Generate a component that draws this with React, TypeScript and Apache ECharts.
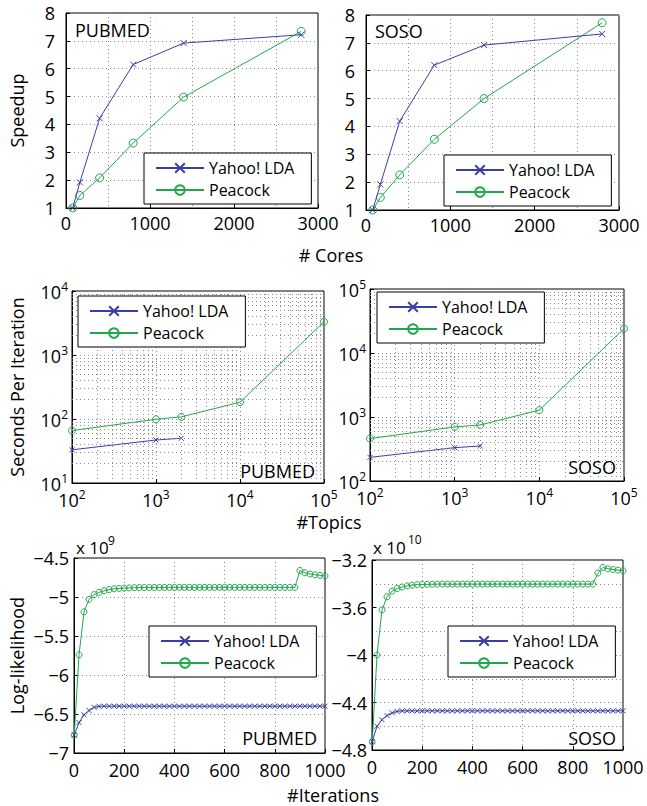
import React, { useEffect, useRef } from 'react';
import * as echarts from 'echarts';

const FONT = '"Open Sans", "DejaVu Sans", sans-serif';
const BLUE = '#3b3ea8';
const GREEN = '#20a84c';
const GRIDC = '#8c8c8c';

// ---- Speedup vs cores ----
const coresPubmed = [80, 165, 400, 800, 1400, 2800];
const coresSoso = [80, 170, 400, 810, 1400, 2800];
const speedupPubmedYahoo = [1, 1.92, 4.22, 6.15, 6.92, 7.22];
const speedupPubmedPeacock = [1, 1.45, 2.08, 3.33, 4.98, 7.34];
const speedupSosoYahoo = [1, 1.92, 4.19, 6.2, 6.92, 7.32];
const speedupSosoPeacock = [1, 1.45, 2.26, 3.54, 5.0, 7.72];

// ---- Seconds per iteration vs topics ----
const topicsYahoo = [100, 1000, 2000];
const topicsPeacock = [100, 1000, 2000, 10000, 100000];
const secPubmedYahoo = [33, 47, 50];
const secPubmedPeacock = [66, 99, 108, 183, 3300];
const secSosoYahoo = [234, 332, 352];
const secSosoPeacock = [460, 700, 750, 1280, 24000];

// ---- Log-likelihood vs iterations ----
const iterations = [
  1, 20, 40, 60, 80, 100, 120, 140, 160, 180, 200, 220, 240, 260, 280, 300, 320, 340, 360, 380,
  400, 420, 440, 460, 480, 500, 520, 540, 560, 580, 600, 620, 640, 660, 680, 700, 720, 740, 760,
  780, 800, 820, 840, 860, 880, 900, 920, 940, 960, 980, 1000,
];
const llPubmedPeacock = [
  -6.77, -5.74, -5.19, -5.03, -4.97, -4.94, -4.92, -4.905, -4.895, -4.89, -4.886, -4.883, -4.881,
  -4.879, -4.879, -4.878, -4.878, -4.878, -4.878, -4.877, -4.877, -4.877, -4.877,
  -4.877, -4.877, -4.877, -4.877, -4.877, -4.877, -4.877, -4.877, -4.877, -4.877,
  -4.877, -4.877, -4.877, -4.877, -4.877, -4.877, -4.877, -4.877, -4.877, -4.877,
  -4.877, -4.877,
  -4.66, -4.69, -4.705, -4.715, -4.722, -4.73,
];
const llPubmedYahoo = [
  -6.77, -6.61, -6.51, -6.455, -6.415, -6.402,
  -6.4, -6.4, -6.4, -6.4, -6.4, -6.4, -6.4, -6.4, -6.4, -6.4,
  -6.4, -6.4, -6.4, -6.4, -6.4, -6.4, -6.4, -6.4, -6.4, -6.4,
  -6.4, -6.4, -6.4, -6.4, -6.4, -6.4, -6.4, -6.4, -6.4, -6.4,
  -6.4, -6.4, -6.4, -6.4, -6.4, -6.4, -6.4, -6.4, -6.4, -6.4,
  -6.4, -6.4, -6.4, -6.4, -6.4,
];
const llSosoPeacock = [
  -4.73, -4.0, -3.62, -3.51, -3.462, -3.44, -3.427, -3.418, -3.412, -3.408, -3.406, -3.405, -3.404,
  -3.403, -3.403, -3.403, -3.403, -3.403, -3.403, -3.403, -3.403, -3.403, -3.403,
  -3.403, -3.403, -3.403, -3.403, -3.403, -3.403, -3.403, -3.403, -3.403, -3.403,
  -3.403, -3.403, -3.403, -3.403, -3.403, -3.403, -3.403, -3.403, -3.403, -3.403,
  -3.403, -3.403,
  -3.31, -3.263, -3.274, -3.28, -3.285, -3.29,
];
const llSosoYahoo = [
  -4.73, -4.6, -4.545, -4.51, -4.487, -4.475,
  -4.47, -4.47, -4.47, -4.47, -4.47, -4.47, -4.47, -4.47, -4.47, -4.47,
  -4.47, -4.47, -4.47, -4.47, -4.47, -4.47, -4.47, -4.47, -4.47, -4.47,
  -4.47, -4.47, -4.47, -4.47, -4.47, -4.47, -4.47, -4.47, -4.47, -4.47,
  -4.47, -4.47, -4.47, -4.47, -4.47, -4.47, -4.47, -4.47, -4.47, -4.47,
  -4.47, -4.47, -4.47, -4.47, -4.47,
];

const legendNames = ['Yahoo! LDA', 'Peacock'];
const minorMultipliers = [2, 3, 4, 5, 6, 7, 8, 9];
const decadesPubmedY = [10, 100, 1000];
const decadesSosoY = [100, 1000, 10000];
const decadesX = [100, 1000, 10000];

const CROSS = 'path://M0 0L10 10M10 0L0 10';

const pairs = (xs: number[], ys: number[]) => ys.map((y, i) => [xs[i], y]);
const minorOf = (decades: number[]) => {
  const out: number[] = [];
  decades.forEach((d) => minorMultipliers.forEach((m) => out.push(m * d)));
  return out;
};

const dotted = { color: GRIDC, type: [1, 3] as any, width: 1 };
const plainFmt = (v: number) => String(v);
const labelStyle = { fontSize: 18, fontFamily: FONT, color: '#000', formatter: plainFmt };
const negFmt = (v: number) => {
  const a = parseFloat(Math.abs(v).toFixed(2));
  return (v < 0 ? '\u2212' : '') + String(a);
};
const logFmt = (v: number) => `{b|10}{s|${Math.round(Math.log10(v))}}`;
const supRich = {
  b: { fontSize: 18, fontFamily: FONT, color: '#000', verticalAlign: 'bottom', lineHeight: 20 },
  s: { fontSize: 12, fontFamily: FONT, color: '#000', verticalAlign: 'bottom', lineHeight: 12, padding: [0, 0, 9, 0] },
};

const axisCommon = {
  axisLine: { show: true, onZero: false, lineStyle: { color: '#000', width: 1 } },
  axisTick: { show: true, inside: true, length: 4, lineStyle: { color: '#000' } },
  splitLine: { show: true, lineStyle: dotted },
};

export default function App() {
  const ref = useRef<HTMLDivElement>(null);
  useEffect(() => {
    document.body.style.margin = '0';
    if (!ref.current) return;
    const chart = echarts.init(ref.current, null, { renderer: 'svg' });

    const grids = [
      { left: 66, top: 13, width: 252, height: 195 },
      { left: 366, top: 15, width: 253, height: 195 },
      { left: 72, top: 291, width: 252, height: 192 },
      { left: 370, top: 289, width: 254, height: 192 },
      { left: 74, top: 558, width: 251, height: 195 },
      { left: 372, top: 560, width: 251, height: 190 },
    ].map((g) => ({ ...g, show: true, borderColor: '#000', borderWidth: 1, backgroundColor: '#fff' }));

    const coresX = (gi: number) => ({
      ...axisCommon, type: 'value', gridIndex: gi, min: 0, max: 3000, interval: 1000,
      minorTick: { show: false, splitNumber: 2 },
      minorSplitLine: { show: true, lineStyle: dotted },
      axisLabel: { ...labelStyle, margin: 6 },
    });
    const speedY = (gi: number) => ({
      ...axisCommon, type: 'value', gridIndex: gi, min: 1, max: 8, interval: 1,
      axisLabel: { ...labelStyle, margin: 11 },
      ...(gi === 0 ? {
        name: 'Speedup', nameLocation: 'middle', nameGap: 40,
        nameTextStyle: { fontSize: 18, fontFamily: FONT, color: '#000' },
      } : {}),
    });
    const logX = (gi: number) => ({
      ...axisCommon, type: 'log', logBase: 10, gridIndex: gi, min: 100, max: 100000,
      axisLabel: { formatter: logFmt, rich: supRich, margin: 6 },
    });
    const logY = (gi: number, min: number, max: number) => ({
      ...axisCommon, type: 'log', logBase: 10, gridIndex: gi, min, max,
      axisLabel: { formatter: logFmt, rich: supRich, margin: 4 },
      ...(gi === 2 ? {
        name: 'Seconds Per Iteration', nameLocation: 'middle', nameGap: 46,
        nameTextStyle: { fontSize: 18, fontFamily: FONT, color: '#000' },
      } : {}),
    });
    const iterX = (gi: number) => ({
      ...axisCommon, type: 'value', gridIndex: gi, min: 0, max: 1000, interval: 200,
      axisLabel: { ...labelStyle, margin: 8 },
    });

    const yahoo = (gi: number, data: number[][], size: number) => ({
      type: 'line', name: 'Yahoo! LDA', xAxisIndex: gi, yAxisIndex: gi, data,
      symbol: CROSS, symbolSize: size, color: BLUE,
      lineStyle: { color: BLUE, width: 1 },
      itemStyle: { color: 'rgba(0,0,0,0)', borderColor: BLUE, borderWidth: 1 },
      emphasis: { disabled: true }, z: 4,
    });
    const peacock = (gi: number, data: number[][], size: number, extra: any = {}) => ({
      type: 'line', name: 'Peacock', xAxisIndex: gi, yAxisIndex: gi, data,
      symbol: 'circle', symbolSize: size, color: GREEN,
      lineStyle: { color: GREEN, width: 1 },
      itemStyle: { color: 'rgba(0,0,0,0)', borderColor: GREEN, borderWidth: 1 },
      emphasis: { disabled: true }, z: 3,
      ...extra,
    });
    const minorGrid = (xs: number[], ys: number[]) => ({
      markLine: {
        silent: true, symbol: ['none', 'none'], label: { show: false },
        lineStyle: dotted, emphasis: { disabled: true },
        data: [...xs.map((v) => ({ xAxis: v })), ...ys.map((v) => ({ yAxis: v }))],
      },
    });

    const legend = (left: number, top: number) => ({
      left, top, orient: 'vertical', data: legendNames,
      backgroundColor: '#fff', borderColor: '#000', borderWidth: 1, borderRadius: 0,
      padding: [5, 17, 4, 11], itemGap: 2, itemWidth: 48, itemHeight: 12,
      selectedMode: false,
      textStyle: { fontSize: 16, fontFamily: FONT, color: '#000', lineHeight: 20 },
      z: 10,
    });

    const txt = (x: number, y: number, text: string, size: number, align = 'left', rot = 0) => ({
      type: 'text', x, y, rotation: rot, z: 20,
      style: {
        text, fontSize: size, fontFamily: FONT, fill: '#000',
        align, textAlign: align, verticalAlign: 'middle', textVerticalAlign: 'middle',
      },
    });

    const option: any = {
      animation: false,
      textStyle: { fontFamily: FONT },
      grid: grids,
      xAxis: [coresX(0), coresX(1), logX(2), logX(3), iterX(4), iterX(5)],
      yAxis: [
        speedY(0), speedY(1),
        logY(2, 10, 10000), logY(3, 100, 100000),
        {
          ...axisCommon, type: 'value', gridIndex: 4, min: -7, max: -4.5, interval: 0.5,
          axisLabel: { ...labelStyle, margin: 5, formatter: negFmt },
          name: 'Log-likelihood', nameLocation: 'middle', nameGap: 48,
          nameTextStyle: { fontSize: 18, fontFamily: FONT, color: '#000' },
        },
        {
          ...axisCommon, type: 'value', gridIndex: 5, min: -4.8, max: -3.2, interval: 0.4,
          minorTick: { show: false, splitNumber: 2 },
          minorSplitLine: { show: true, lineStyle: dotted },
          axisLabel: { ...labelStyle, margin: 5, formatter: negFmt },
        },
      ],
      legend: [legend(144, 153), legend(444, 155), legend(78, 296), legend(377, 292), legend(149, 626), legend(448, 626)],
      series: [
        yahoo(0, pairs(coresPubmed, speedupPubmedYahoo), 6),
        peacock(0, pairs(coresPubmed, speedupPubmedPeacock), 8),
        yahoo(1, pairs(coresSoso, speedupSosoYahoo), 6),
        peacock(1, pairs(coresSoso, speedupSosoPeacock), 8),
        yahoo(2, pairs(topicsYahoo, secPubmedYahoo), 5),
        peacock(2, pairs(topicsPeacock, secPubmedPeacock), 7, minorGrid(minorOf(decadesX), minorOf(decadesPubmedY))),
        yahoo(3, pairs(topicsYahoo, secSosoYahoo), 5),
        peacock(3, pairs(topicsPeacock, secSosoPeacock), 7, minorGrid(minorOf(decadesX), minorOf(decadesSosoY))),
        yahoo(4, pairs(iterations, llPubmedYahoo), 5),
        peacock(4, pairs(iterations, llPubmedPeacock), 6),
        yahoo(5, pairs(iterations, llSosoYahoo), 5),
        peacock(5, pairs(iterations, llSosoPeacock), 6),
      ],
      graphic: [
        txt(75, 30, 'PUBMED', 18),
        txt(375, 31, 'SOSO', 18),
        txt(315, 471, 'PUBMED', 18, 'right'),
        txt(616, 467, 'SOSO', 18, 'right'),
        txt(317, 738, 'PUBMED', 18, 'right'),
        txt(616, 738, 'SOSO', 18, 'right'),
        txt(331, 255, '# Cores', 18, 'center'),
        txt(329, 522, '#Topics', 18, 'center'),
        txt(333, 795, '#Iterations', 18, 'center'),
        txt(76, 547, 'x 10', 17),
        txt(108, 540, '9', 12),
        txt(373, 547, 'x 10', 17),
        txt(408, 539, '10', 12),
      ],
    };
    chart.setOption(option);
    return () => chart.dispose();
  }, []);
  return <div ref={ref} style={{ width: 647, height: 806 }} />;
}
